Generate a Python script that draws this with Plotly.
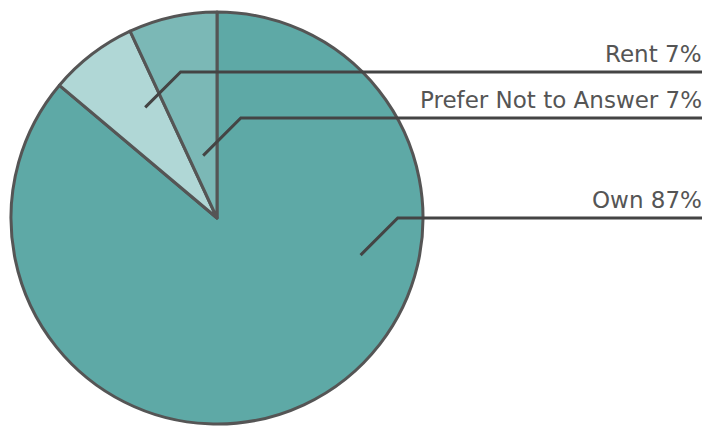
import plotly.graph_objects as go
import math

labels = ["Own", "Rent", "Prefer Not to Answer"]
values = [87, 7, 7]
colors = ["#5EA9A6", "#B0D7D6", "#7BB8B6"]
# label line vertical positions (px from top) and leader end positions (angle clockwise from top, radius fraction)
label_line_y = [218, 72, 118]
leader_angle = [104.5, 327, 347.5]
leader_rfrac = [0.72, 0.64, 0.31]

W, H = 704, 426
cx, cy, R = 217, 218, 206

fig = go.Figure(go.Pie(
    labels=labels, values=values, sort=False, direction="clockwise", rotation=0,
    marker=dict(colors=colors, line=dict(color="#555555", width=3)),
    textinfo="none", hoverinfo="label+percent",
    domain=dict(x=[(cx - R) / W, (cx + R) / W], y=[(H - cy - R) / H, (H - cy + R) / H]),
    showlegend=False,
))

def px(x, y):
    return x / W, 1 - y / H

shapes = []
annotations = []
for lab, v, ly, ang, rf in zip(labels, values, label_line_y, leader_angle, leader_rfrac):
    a = math.radians(ang)
    ex = cx + rf * R * math.sin(a)
    ey = cy - rf * R * math.cos(a)
    d = ey - ly
    elx = ex + d
    x0, y0 = px(ex, ey)
    x1, y1 = px(elx, ly)
    x2, y2 = px(702, ly)
    shapes.append(dict(type="path", xref="paper", yref="paper",
                       path=f"M {x0},{y0} L {x1},{y1} L {x2},{y2}",
                       line=dict(color="#444444", width=3)))
    annotations.append(dict(xref="paper", yref="paper", x=704 / W, y=1 - (ly - 3) / H,
                            xanchor="right", yanchor="bottom", showarrow=False,
                            text=f"{lab} {v}%",
                            font=dict(family="DejaVu Sans", size=23, color="#555555")))

fig.update_layout(width=W, height=H, margin=dict(l=0, r=0, t=0, b=0),
                  paper_bgcolor="white", plot_bgcolor="white",
                  shapes=shapes, annotations=annotations)
fig.write_html("out.html", config={"displayModeBar": False},
               post_script="document.body.style.margin='0';document.body.style.overflow='hidden';")
